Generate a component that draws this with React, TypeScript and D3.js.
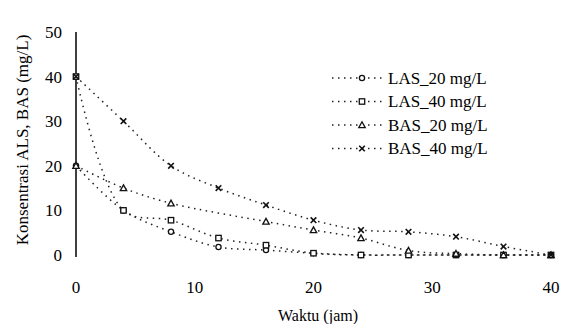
import React, { useEffect, useRef } from "react";
import * as d3 from "d3";

// hours of sampling
const hours = [0, 4, 8, 12, 16, 20, 24, 28, 32, 36, 40];
const hoursBas20 = [0, 4, 8, 16, 20, 24, 28, 32, 36, 40];

const las20 = [20, 10, 5.2, 1.8, 1.1, 0.4, 0, 0, 0, 0, 0];
const las40 = [40, 10, 7.8, 3.8, 2.2, 0.4, 0, 0, 0, 0, 0];
const bas20 = [20, 15, 11.6, 7.5, 5.6, 3.8, 1, 0.3, 0, 0];
const bas40 = [40, 30, 20, 15, 11.2, 7.8, 5.6, 5.2, 4.1, 1.9, 0];

const seriesNames = ["LAS_20 mg/L", "LAS_40 mg/L", "BAS_20 mg/L", "BAS_40 mg/L"];
const markerTypes = ["circle", "square", "triangle", "cross"];

const yTicks = [0, 10, 20, 30, 40, 50];
const xTicks = [0, 10, 20, 30, 40];

const FONT = "'Liberation Serif', 'Times New Roman', serif";

const App = () => {
  const svgRef = useRef<SVGSVGElement>(null);

  useEffect(() => {
    const width = 568;
    const height = 332;
    const svg = d3.select(svgRef.current).attr("width", width).attr("height", height);
    svg.selectAll("*").remove();

    const x = d3.scaleLinear().domain([0, 40]).range([76, 551]);
    const y = d3.scaleLinear().domain([0, 50]).range([255, 32]);

    const series = [
      { name: seriesNames[0], xs: hours, ys: las20, marker: markerTypes[0] },
      { name: seriesNames[1], xs: hours, ys: las40, marker: markerTypes[1] },
      { name: seriesNames[2], xs: hoursBas20, ys: bas20, marker: markerTypes[2] },
      { name: seriesNames[3], xs: hours, ys: bas40, marker: markerTypes[3] },
    ];

    const drawMarker = (g: any, type: string, cx: number, cy: number) => {
      if (type === "circle") {
        g.append("circle").attr("cx", cx).attr("cy", cy).attr("r", 2.6)
          .attr("fill", "white").attr("stroke", "#111").attr("stroke-width", 1.3);
      } else if (type === "square") {
        g.append("rect").attr("x", cx - 2.7).attr("y", cy - 2.7).attr("width", 5.4).attr("height", 5.4)
          .attr("fill", "white").attr("stroke", "#111").attr("stroke-width", 1.3);
      } else if (type === "triangle") {
        g.append("path")
          .attr("d", `M${cx},${cy - 3.2}L${cx + 3.2},${cy + 2.6}L${cx - 3.2},${cy + 2.6}Z`)
          .attr("fill", "white").attr("stroke", "#111").attr("stroke-width", 1.3);
      } else {
        g.append("path")
          .attr("d", `M${cx - 2.8},${cy - 2.8}L${cx + 2.8},${cy + 2.8}M${cx - 2.8},${cy + 2.8}L${cx + 2.8},${cy - 2.8}`)
          .attr("stroke", "#111").attr("stroke-width", 1.6);
      }
    };

    // Y axis line
    svg.append("line")
      .attr("x1", x(0)).attr("x2", x(0))
      .attr("y1", y(50)).attr("y2", y(0) + 2)
      .attr("stroke", "black").attr("stroke-width", 1.5);

    // Tick labels
    svg.selectAll(".ytick").data(yTicks).enter().append("text")
      .attr("x", 62).attr("y", (d) => y(d)).attr("dy", "0.35em")
      .attr("text-anchor", "end")
      .style("font-family", FONT).style("font-size", "17px")
      .text((d) => d);

    svg.selectAll(".xtick").data(xTicks).enter().append("text")
      .attr("x", (d) => x(d)).attr("y", 287).attr("dy", "0.35em")
      .attr("text-anchor", "middle")
      .style("font-family", FONT).style("font-size", "17px")
      .text((d) => d);

    // Axis titles
    svg.append("text")
      .attr("transform", `translate(22, 140) rotate(-90)`)
      .attr("text-anchor", "middle").attr("dy", "0.35em")
      .style("font-family", FONT).style("font-size", "17px")
      .text("Konsentrasi ALS, BAS (mg/L)");

    svg.append("text")
      .attr("x", 318).attr("y", 315).attr("dy", "0.35em")
      .attr("text-anchor", "middle")
      .style("font-family", FONT).style("font-size", "16px")
      .text("Waktu (jam)");

    // Smooth dotted lines
    const line = d3.line<[number, number]>()
      .x((d) => x(d[0]))
      .y((d) => y(d[1]))
      .curve(d3.curveCatmullRom.alpha(0.5));

    series.forEach((s) => {
      const pts: [number, number][] = s.xs.map((h, i) => [h, s.ys[i]]);
      svg.append("path")
        .attr("d", line(pts))
        .attr("fill", "none")
        .attr("stroke", "#222")
        .attr("stroke-width", 1.5)
        .attr("stroke-dasharray", "1.5 4.5");
    });

    series.forEach((s) => {
      const g = svg.append("g");
      s.xs.forEach((h, i) => drawMarker(g, s.marker, x(h), y(s.ys[i])));
    });

    // Legend
    const legend = svg.append("g");
    series.forEach((s, i) => {
      const ly = 78 + i * 23.5;
      legend.append("line")
        .attr("x1", 332).attr("x2", 384).attr("y1", ly).attr("y2", ly)
        .attr("stroke", "#222").attr("stroke-width", 1.5)
        .attr("stroke-dasharray", "1.5 4.5");
      drawMarker(legend, s.marker, 362, ly);
      legend.append("text")
        .attr("x", 388).attr("y", ly).attr("dy", "0.35em")
        .style("font-family", FONT).style("font-size", "17px")
        .text(s.name);
    });
  }, []);

  return (
    <div style={{ margin: -8 }}>
      <svg ref={svgRef} style={{ display: "block", background: "white" }}></svg>
    </div>
  );
};

export default App;
